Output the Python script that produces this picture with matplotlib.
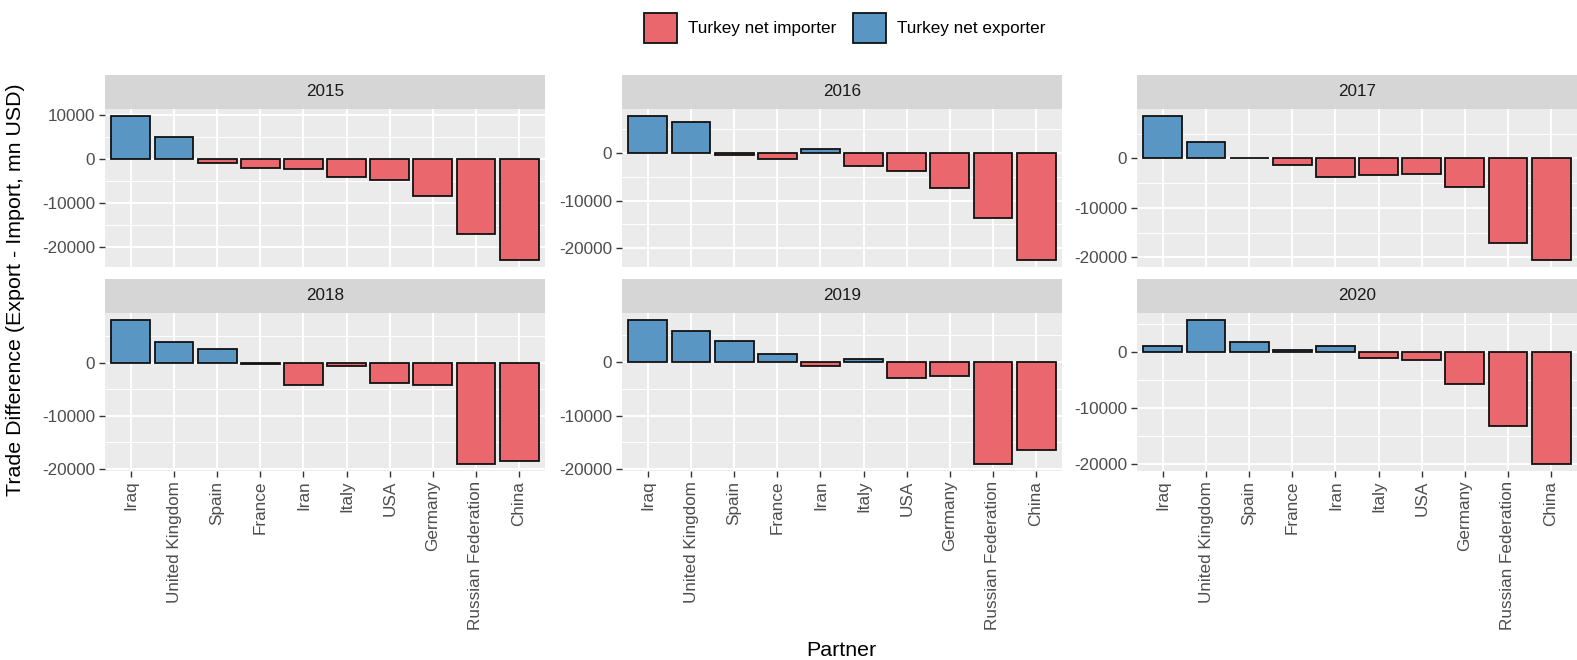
import matplotlib
matplotlib.use("Agg")
import matplotlib.pyplot as plt
from matplotlib.patches import Rectangle
from matplotlib.ticker import MultipleLocator, FuncFormatter

plt.rcParams['font.family'] = ['Liberation Sans', 'DejaVu Sans']

partners = ["Iraq", "United Kingdom", "Spain", "France", "Iran", "Italy",
            "USA", "Germany", "Russian Federation", "China"]
years = ["2015", "2016", "2017", "2018", "2019", "2020"]

# Trade difference (export - import), million USD, in partner order
diff_2015 = [9800, 5000, -750, -1900, -2250, -4100, -4650, -8300, -17100, -22900]
diff_2016 = [7800, 6600, -450, -1250, 800, -2650, -3850, -7350, -13550, -22450]
diff_2017 = [8500, 3200, 150, -1400, -3800, -3450, -3100, -5800, -17100, -20500]
diff_2018 = [8000, 3950, 2500, -250, -4300, -700, -3900, -4150, -19050, -18450]
diff_2019 = [7800, 5850, 3850, 1400, -800, 600, -2900, -2700, -19000, -16400]
diff_2020 = [950, 5650, 1800, 350, 1000, -1150, -1500, -5800, -13350, -20050]
series = [diff_2015, diff_2016, diff_2017, diff_2018, diff_2019, diff_2020]

legend_labels = ["Turkey net importer", "Turkey net exporter"]
col_importer = "#E9676D"
col_exporter = "#5A96C4"

W, H = 1577, 660
fig = plt.figure(figsize=(W / 100, H / 100), dpi=100)
fig.patch.set_facecolor("white")

col_lefts = [105, 622, 1137]
col_width = 440
row_tops = [109, 313]
panel_h = 158
strip_h = 34

tick_fs = 12.3
title_fs = 15.4


def fx(px):
    return px / W


def fy(py):
    return 1 - py / H


for i, (year, vals) in enumerate(zip(years, series)):
    r, c = divmod(i, 3)
    left = col_lefts[c]
    top = row_tops[r]
    ax = fig.add_axes([fx(left), fy(top + panel_h), fx(col_width), panel_h / H])
    ax.set_facecolor("#EBEBEB")
    for s in ax.spines.values():
        s.set_visible(False)

    x = list(range(1, len(partners) + 1))
    colors = [col_importer if v < 0 else col_exporter for v in vals]
    ax.bar(x, vals, width=0.9, color=colors, edgecolor="#111111",
           linewidth=1.3, zorder=3)

    lo = min(min(vals), 0)
    hi = max(max(vals), 0)
    rng = hi - lo
    ax.set_ylim(lo - 0.05 * rng, hi + 0.05 * rng)
    ax.set_xlim(0.4, len(partners) + 0.6)

    ax.yaxis.set_major_locator(MultipleLocator(10000))
    ax.yaxis.set_minor_locator(MultipleLocator(5000))
    ax.yaxis.set_major_formatter(FuncFormatter(lambda v, p: f"{int(round(v))}"))
    ax.set_xticks(x)
    ax.grid(which="major", color="white", linewidth=1.4, zorder=0)
    ax.grid(which="minor", axis="y", color="white", linewidth=0.7, zorder=0)
    ax.set_axisbelow(True)

    ax.tick_params(axis="y", which="major", length=4, width=1.0,
                   color="#333333", labelcolor="#4D4D4D",
                   labelsize=tick_fs, pad=3)
    ax.tick_params(axis="y", which="minor", length=0)
    if r == 1:
        ax.set_xticklabels(partners, rotation=90, fontsize=tick_fs,
                           color="#4D4D4D")
        ax.tick_params(axis="x", length=4, width=1.0, color="#333333", pad=3)
    else:
        ax.set_xticklabels([])
        ax.tick_params(axis="x", length=0)

    # facet strip
    sax = fig.add_axes([fx(left), fy(top), fx(col_width), strip_h / H])
    sax.set_facecolor("#D6D6D6")
    sax.set_xticks([])
    sax.set_yticks([])
    for s in sax.spines.values():
        s.set_visible(False)
    sax.text(0.5, 0.5, year, ha="center", va="center", fontsize=tick_fs,
             color="#1A1A1A", transform=sax.transAxes)

# axis titles
fig.text(fx(841), fy(650), "Partner", ha="center", va="center",
         fontsize=title_fs, color="black")
fig.text(fx(16), fy(290), "Trade Difference (Export - Import, mn USD)",
         ha="center", va="center", rotation=90, fontsize=title_fs,
         color="black")

# legend at top
box_w = 33
box_h = 30
legend_y = 13
items = [(644, col_importer, legend_labels[0]),
         (853, col_exporter, legend_labels[1])]
for x0, col, lab in items:
    fig.add_artist(Rectangle((fx(x0), fy(legend_y + box_h)), fx(box_w),
                             box_h / H, facecolor=col, edgecolor="#111111",
                             linewidth=1.3, transform=fig.transFigure))
    fig.text(fx(x0 + box_w + 11), fy(legend_y + box_h / 2), lab, ha="left",
             va="center", fontsize=tick_fs, color="black")

fig.savefig("out.png", dpi=100, facecolor="white")
